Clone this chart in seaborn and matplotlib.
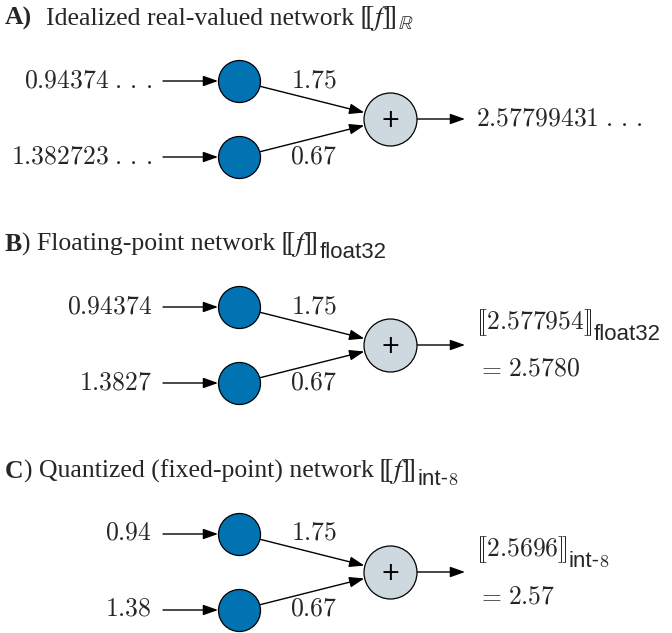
import numpy as np
import pandas as pd
import matplotlib.pyplot as plt
import seaborn as sns

# Panel texts: (label letter, bold part, rest of title, subscript)
panel_bold = ["A)", "B", "C"]
panel_rest = ["Idealized real-valued network", ") Floating-point network",
              ") Quantized (fixed-point) network"]
panel_sub = [r"$\mathbb{R}$", "float32", "int-"]
top_inputs = [r"$0.94374\;.\,.\,.$", r"$0.94374$", r"$0.94$"]
bottom_inputs = [r"$1.382723\;.\,.\,.$", r"$1.3827$", r"$1.38$"]
weights = ["1.75", "0.67"]
outputs_main = [r"$2.57799431\;.\,.\,.$", r"$[\![2.577954]\!]$", r"$[\![2.5696]\!]$"]
outputs_sub = [None, "float32", "int-"]
outputs_eq = [None, r"$2.5780$", r"$2.57$"]

# Layout (pixel units, figure is 672 x 633)
W, H, DPI = 672, 633, 100
plus_y = np.array([119, 345, 572])
title_base_dy = -94
node_dy = 38
node_x, plus_x = 239, 390
r_node, r_plus = 21, 26.5
in_x0, label_x = 163, 152
out_x1, out_text_x = 465, 476

node_blue = sns.color_palette("colorblind")[0]
plus_gray = "#CDD8DF"
num_size = 18.5
title_size = 18.5

sns.set_theme(style="white")
plt.rcParams["font.family"] = ["Liberation Serif", "DejaVu Serif"]
plt.rcParams["mathtext.fontset"] = "cm"

fig = plt.figure(figsize=(W / DPI, H / DPI), dpi=DPI)
ax = fig.add_axes([0, 0, 1, 1])
ax.set_xlim(0, W)
ax.set_ylim(H, 0)
renderer = fig.canvas.get_renderer()

# node tables
nodes = pd.DataFrame({
    "x": [node_x] * 6,
    "y": np.concatenate([plus_y - node_dy, plus_y + node_dy]),
})
sums = pd.DataFrame({"x": [plus_x] * 3, "y": plus_y})


def px_to_s(r):
    return (2 * r * 72 / DPI) ** 2


sns.scatterplot(data=nodes, x="x", y="y", s=px_to_s(r_node), color=node_blue,
                edgecolor="black", linewidth=0.9, ax=ax, zorder=3)
sns.scatterplot(data=sums, x="x", y="y", s=px_to_s(r_plus), color=plus_gray,
                edgecolor="black", linewidth=0.9, ax=ax, zorder=3)

arrow_kw = dict(arrowstyle="-|>,head_length=0.45,head_width=0.16", color="black",
                lw=1.0, shrinkA=0, shrinkB=0, mutation_scale=20)


def arrow(p0, p1):
    ax.annotate("", xy=p1, xytext=p0, arrowprops=arrow_kw, zorder=2)


def text_row(x, y, pieces):
    # pieces: (string, text kwargs, vertical shift, gap after)
    for s, kw, dy, gap in pieces:
        t = ax.text(x, y + dy, s, ha="left", va="baseline", **kw)
        x += t.get_window_extent(renderer).width + gap


serif = dict(fontsize=title_size)
bold = dict(fontsize=title_size, fontweight="bold")
stix = dict(fontsize=20, math_fontfamily="stix")
sans = dict(fontsize=16, family="Liberation Sans")
small8 = dict(fontsize=13)
num = dict(fontsize=num_size)

for i, py in enumerate(plus_y):
    # panel title
    pieces = [(panel_bold[i], bold, 0, 14 if i == 0 else 0),
              (panel_rest[i], serif, 0, 5),
              (r"$[\![f]\!]$", stix, 0, 1)]
    if i == 0:
        pieces.append((panel_sub[i], dict(fontsize=14, math_fontfamily="stix"), 4, 0))
    else:
        pieces.append((panel_sub[i], sans, 7, 0))
        if i == 2:
            pieces.append((r"$8$", small8, 7, 0))
    text_row(5, py + title_base_dy, pieces)

    node_ys = [py - node_dy, py + node_dy]
    labels = [top_inputs[i], bottom_inputs[i]]
    for j, ny in enumerate(node_ys):
        ax.text(label_x, ny, labels[j], fontsize=num_size, ha="right", va="center")
        arrow((in_x0, ny), (node_x - r_node, ny))
        # edge from node to sum node, trimmed to both boundaries
        d = np.array([plus_x - node_x, py - ny], dtype=float)
        d /= np.linalg.norm(d)
        p0 = np.array([node_x, ny]) + d * r_node
        p1 = np.array([plus_x, py]) - d * r_plus
        arrow(tuple(p0), tuple(p1))
        ax.text(314, ny, "$" + weights[j] + "$", fontsize=num_size, ha="center", va="center")
    ax.text(plus_x, py + 1, "+", fontsize=17, family="DejaVu Sans", color="black",
            ha="center", va="center", zorder=4)
    arrow((plus_x + r_plus, py), (out_x1, py))

    # output value
    if outputs_eq[i] is None:
        ax.text(out_text_x, py, outputs_main[i], fontsize=num_size, ha="left", va="center")
    else:
        pieces = [(outputs_main[i], num, 0, 1),
                  (outputs_sub[i], sans, 11, 0)]
        if i == 2:
            pieces.append((r"$8$", small8, 11, 0))
        text_row(out_text_x, py - 16, pieces)
        text_row(out_text_x + 1, py + 31, [(r"$=$", num, 0, 6), (outputs_eq[i], num, 0, 0)])

ax.set_axis_off()
fig.savefig("out.png", dpi=DPI)
